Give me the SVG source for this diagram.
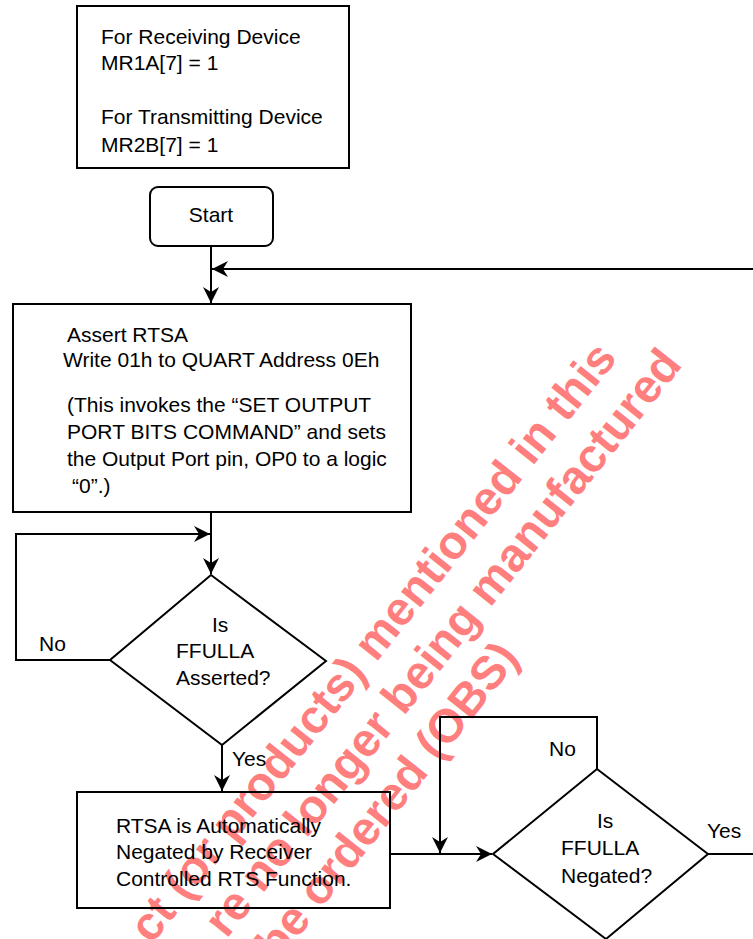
<svg xmlns="http://www.w3.org/2000/svg" width="753" height="939" viewBox="0 0 753 939">
<style>
  .box { fill: none; stroke: #000000; stroke-width: 2; }
  .t { font-family: "Liberation Sans", Arial, Helvetica, sans-serif; font-size: 21px; fill: #000000; }
  .c { text-anchor: middle; }
  .wm { font-family: "Liberation Sans", Arial, Helvetica, sans-serif; font-size: 47px; font-weight: bold; fill: #ff7f7f; }
  .ln { fill: none; stroke: #000000; stroke-width: 2; }
</style>
<defs>
  <marker id="arr" markerUnits="userSpaceOnUse" markerWidth="20" markerHeight="20" viewBox="-17 -10 19 20" refX="0" refY="0" orient="auto">
    <path d="M0,0 L-16,-8 L-11,0 L-16,8 Z" fill="#000000"/>
  </marker>
</defs>
<rect width="753" height="939" fill="#ffffff"/>

<g id="watermark" transform="rotate(-51.5)">
  <text class="wm" x="-645" y="707">ct (or products) mentioned in this</text>
  <text class="wm" x="-594" y="762">re no longer being manufactured</text>
  <text class="wm" x="-580" y="817">be ordered (OBS)</text>
</g>

<g id="connectors">
  <path class="ln" d="M211,246 V303" marker-end="url(#arr)"/>
  <path class="ln" d="M753,269 H212" marker-end="url(#arr)"/>
  <path class="ln" d="M211,512 V574" marker-end="url(#arr)"/>
  <path class="ln" d="M110,660 H16 V534 H210" marker-end="url(#arr)"/>
  <path class="ln" d="M222,745 V791" marker-end="url(#arr)"/>
  <path class="ln" d="M390,854 H492" marker-end="url(#arr)"/>
  <path class="ln" d="M597,769 V717 H440 V853" marker-end="url(#arr)"/>
  <path class="ln" d="M708,854 H753"/>
</g>

<g id="note">
  <rect class="box" x="77" y="6" width="272" height="162"/>
  <text class="t" x="101" y="44">For Receiving Device</text>
  <text class="t" x="101" y="70">MR1A[7] = 1</text>
  <text class="t" x="101" y="124">For Transmitting Device</text>
  <text class="t" x="101" y="152">MR2B[7] = 1</text>
</g>

<g id="start">
  <rect class="box" x="150" y="187" width="123" height="59" rx="8"/>
  <text class="t c" x="211" y="222">Start</text>
</g>

<g id="assert">
  <rect class="box" x="13" y="304" width="398" height="208"/>
  <text class="t" x="67" y="342">Assert RTSA</text>
  <text class="t" x="63" y="367">Write 01h to QUART Address 0Eh</text>
  <text class="t" x="67" y="412">(This invokes the “SET OUTPUT</text>
  <text class="t" x="67" y="439">PORT BITS COMMAND” and sets</text>
  <text class="t" x="67" y="466">the Output Port pin, OP0 to a logic</text>
  <text class="t" x="72" y="493">“0”.)</text>
</g>

<g id="decision1">
  <polygon class="box" points="211,575 326,661 222,745 110,660"/>
  <text class="t" x="212" y="632">Is</text>
  <text class="t" x="176" y="658">FFULLA</text>
  <text class="t" x="176" y="685">Asserted?</text>
  <text class="t" x="39" y="651">No</text>
  <text class="t" x="232" y="766">Yes</text>
</g>

<g id="negate">
  <rect class="box" x="77" y="792" width="313" height="116"/>
  <text class="t" x="116" y="833">RTSA is Automatically</text>
  <text class="t" x="116" y="859">Negated by Receiver</text>
  <text class="t" x="116" y="886">Controlled RTS Function.</text>
</g>

<g id="decision2">
  <polygon class="box" points="597,769 708,854 606,939 493,854"/>
  <text class="t" x="597" y="828">Is</text>
  <text class="t" x="561" y="855">FFULLA</text>
  <text class="t" x="561" y="883">Negated?</text>
  <text class="t" x="549" y="756">No</text>
  <text class="t" x="707" y="838">Yes</text>
</g>
</svg>
